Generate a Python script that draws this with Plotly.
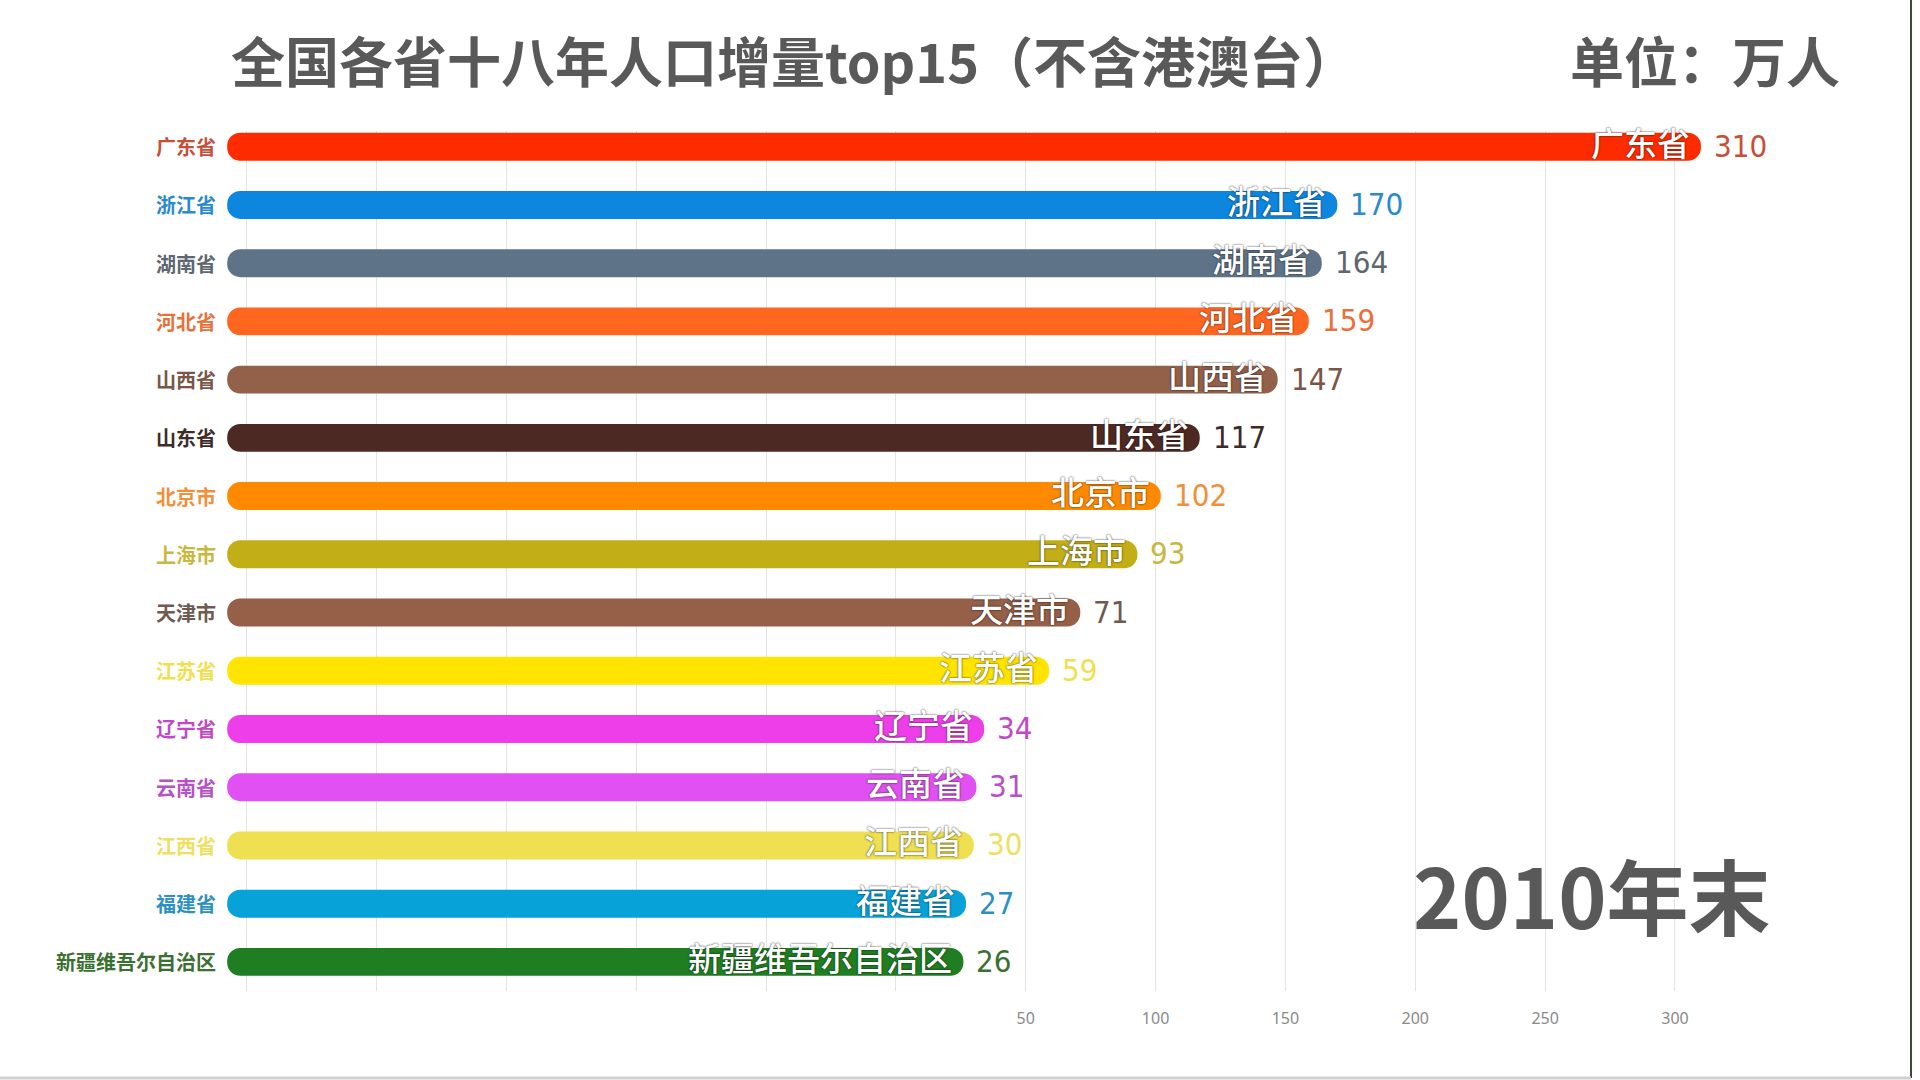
import plotly.graph_objects as go

provinces = ["广东省", "浙江省", "湖南省", "河北省", "山西省", "山东省", "北京市", "上海市",
             "天津市", "江苏省", "辽宁省", "云南省", "江西省", "福建省", "新疆维吾尔自治区"]
values = [310, 170, 164, 159, 147, 117, 102, 93, 71, 59, 34, 31, 30, 27, 26]
bar_colors = ["#FF2B00", "#0D86DF", "#5F7388", "#FF6620", "#93604A", "#4D2923", "#FF8A00", "#C2AE16",
              "#955F48", "#FFE400", "#EE3EE9", "#E050F2", "#EEE050", "#06A2D8", "#1F7D22"]
text_colors = ["#C5503A", "#2A8AD0", "#5E6670", "#E8703A", "#7A5646", "#3D2B28", "#F0903A", "#C8B840",
               "#6E5A50", "#F0E050", "#C248C8", "#B850C8", "#EEE060", "#2C90C0", "#3A7030"]
tick_vals = [-250, -200, -150, -100, -50, 0, 50, 100, 150, 200, 250, 300]
tick_text = ["", "", "", "", "", "", "50", "100", "150", "200", "250", "300"]
title_text = "全国各省十八年人口增量top15（不含港澳台）"
unit_text = "单位：万人"
period_text = "2010年末"

LEFT = -257.5   # left end of every bar (bars start off-axis, as in the original)

W, H = 1920, 1080
ML, MR, MT, MB = 222, 130, 131, 89
PW, PH = W - ML - MR, H - MT - MB


def to_paper(px, py):
    return (px - ML) / PW, 1 - (py - MT) / PH


fig = go.Figure()
fig.add_trace(go.Bar(
    y=provinces,
    x=[v - LEFT for v in values],
    base=[LEFT] * len(values),
    orientation="h",
    marker=dict(color=bar_colors, line=dict(width=0), cornerradius="50%"),
    width=0.48,
    hoverinfo="skip",
))

annotations = []
for p, v, tc in zip(provinces, values, text_colors):
    annotations.append(dict(
        x=v, y=p, xref="x", yref="y", text=p, showarrow=False,
        xanchor="right", yanchor="middle", xshift=-9, yshift=5,
        font=dict(family="Noto Sans CJK SC", size=33, color="white", weight=500,
                  shadow="0px 0px 2px rgba(0,0,0,0.9)"),
    ))
    annotations.append(dict(
        x=v, y=p, xref="x", yref="y", text=str(v), showarrow=False,
        xanchor="left", yanchor="middle", xshift=11, yshift=1,
        font=dict(family="Liberation Sans Narrow, DejaVu Sans Condensed, Noto Sans", size=31, color=tc),
    ))
    annotations.append(dict(
        x=0, y=p, xref="paper", yref="y", text=p, showarrow=False,
        xanchor="right", yanchor="middle", xshift=-4,
        font=dict(family="Noto Sans CJK SC", size=20, color=tc, weight="bold"),
    ))

tx, ty = to_paper(229, 60)
ux, uy = to_paper(1842, 60)
qx, qy = to_paper(1773, 893)
annotations += [
    dict(x=tx, y=ty, xref="paper", yref="paper", text=title_text,
         showarrow=False, xanchor="left", yanchor="middle",
         font=dict(family="Noto Sans CJK SC", size=54, color="#595959", weight="bold")),
    dict(x=ux, y=uy, xref="paper", yref="paper", text=unit_text,
         showarrow=False, xanchor="right", yanchor="middle",
         font=dict(family="Noto Sans CJK SC", size=54, color="#595959", weight="bold")),
    dict(x=qx, y=qy, xref="paper", yref="paper", text=period_text,
         showarrow=False, xanchor="right", yanchor="middle",
         font=dict(family="Noto Sans CJK SC", size=82, color="#595959", weight="bold")),
]

lx0, ly0 = to_paper(1911, 0)
lx1, ly1 = to_paper(1911, 1078)
bx0, _ = to_paper(0, 1077)

fig.update_layout(
    width=W, height=H,
    margin=dict(l=ML, r=MR, t=MT, b=MB),
    paper_bgcolor="white", plot_bgcolor="white",
    showlegend=False,
    xaxis=dict(range=[-259.5, 344.3], tickvals=tick_vals, ticktext=tick_text,
               showgrid=True, gridcolor="#E4E4E4", gridwidth=1, zeroline=False,
               showline=False, ticks="", ticklabelstandoff=16,
               tickfont=dict(family="Noto Sans", size=16, color="#8A8A8A")),
    yaxis=dict(categoryorder="array", categoryarray=provinces,
               range=[len(provinces) - 0.5, -0.27], showticklabels=False,
               showgrid=False, zeroline=False, showline=False),
    annotations=annotations,
    shapes=[
        dict(type="line", xref="paper", yref="paper", x0=lx0, x1=lx1, y0=ly0, y1=ly1,
             line=dict(color="#3C4A3C", width=2)),
        dict(type="line", xref="paper", yref="paper", x0=bx0, x1=lx1, y0=ly1, y1=ly1,
             line=dict(color="#CFCFCF", width=3)),
    ],
)

fig.write_html("out.html", config={"displayModeBar": False},
               post_script="document.body.style.margin='0';document.body.style.overflow='hidden';")
